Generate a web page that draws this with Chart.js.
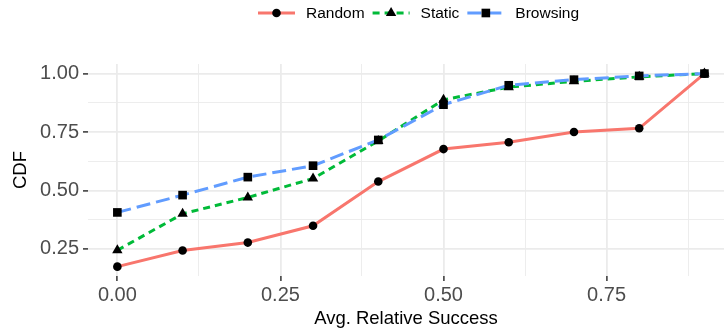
<!DOCTYPE html>
<html>
<head>
<meta charset="utf-8">
<script src="https://cdn.jsdelivr.net/npm/chart.js@4/dist/chart.umd.min.js"></script>
<style>
  html, body { margin: 0; padding: 0; background: #fff; }
  #wrap { width: 724px; height: 330px; position: relative; }
</style>
</head>
<body>
<div id="wrap"><canvas id="cdfChart"></canvas></div>
<script>
const successLevels = [0.0, 0.1, 0.2, 0.3, 0.4, 0.5, 0.6, 0.7, 0.8, 0.9];
const randomCdf = [0.174, 0.243, 0.277, 0.349, 0.538, 0.677, 0.706, 0.750, 0.766, 1.0];
const staticCdf = [0.244, 0.400, 0.470, 0.551, 0.712, 0.888, 0.942, 0.967, 0.986, 1.0];
const browsingCdf = [0.406, 0.480, 0.557, 0.606, 0.716, 0.867, 0.950, 0.974, 0.990, 1.0];
const xTicks = [0, 0.125, 0.25, 0.375, 0.5, 0.625, 0.75, 0.875];
const yTicks = [0.25, 0.375, 0.5, 0.625, 0.75, 0.875, 1.0];

const FONT = '"Liberation Sans", Arial, sans-serif';

const series = [
  { label: 'Random', values: randomCdf, color: '#F8766D', dash: [], marker: 'circle', radius: 4.3, order: 3 },
  { label: 'Static', values: staticCdf, color: '#00BA38', dash: [7, 5], marker: 'triangle', radius: 6, order: 2 },
  { label: 'Browsing', values: browsingCdf, color: '#619CFF', dash: [14, 6], marker: 'rect', radius: 6.1, order: 1 },
];

function isMajor(v) {
  return Math.abs(v * 4 - Math.round(v * 4)) < 1e-6;
}

function drawMarker(ctx, kind, x, y, r) {
  ctx.fillStyle = '#000';
  ctx.beginPath();
  if (kind === 'circle') {
    ctx.arc(x, y, r, 0, Math.PI * 2);
  } else if (kind === 'triangle') {
    for (let i = 0; i < 3; i++) {
      const a = i * 2 * Math.PI / 3;
      const px = x + Math.sin(a) * r;
      const py = y - Math.cos(a) * r;
      if (i === 0) ctx.moveTo(px, py); else ctx.lineTo(px, py);
    }
    ctx.closePath();
  } else {
    const s = r * Math.SQRT1_2;
    ctx.rect(x - s, y - s, 2 * s, 2 * s);
  }
  ctx.fill();
}

// ggplot-like legend above the panel: line key with marker, then label
const topLegend = {
  id: 'topLegend',
  afterDraw(chart) {
    const ctx = chart.ctx;
    ctx.save();
    ctx.font = '15.5px ' + FONT;
    ctx.textBaseline = 'middle';
    const y = 13;
    let x = 258;
    series.forEach((s) => {
      ctx.strokeStyle = s.color;
      ctx.lineWidth = 3;
      ctx.setLineDash(s.dash);
      ctx.beginPath();
      ctx.moveTo(x, y);
      ctx.lineTo(x + 37, y);
      ctx.stroke();
      ctx.setLineDash([]);
      drawMarker(ctx, s.marker, x + 18.5, y, s.radius);
      ctx.fillStyle = '#000';
      ctx.fillText(s.label, x + 48, y + 1);
      x += 48 + ctx.measureText(s.label).width + 8;
    });
    ctx.restore();
  },
};

const datasets = series.map((s) => ({
  label: s.label,
  data: successLevels.map((x, i) => ({ x, y: s.values[i] })),
  borderColor: s.color,
  borderWidth: 3,
  borderDash: s.dash,
  pointStyle: s.marker,
  pointRadius: s.radius,
  pointBackgroundColor: '#000',
  pointBorderColor: '#000',
  pointBorderWidth: 0,
  tension: 0,
  fill: false,
  order: s.order,
}));

new Chart(document.getElementById('cdfChart'), {
  type: 'line',
  data: { datasets },
  plugins: [topLegend],
  options: {
    responsive: true,
    maintainAspectRatio: false,
    animation: false,
    layout: { autoPadding: false, padding: { top: 64, right: 0, bottom: 0, left: 0 } },
    plugins: { legend: { display: false }, tooltip: { enabled: false } },
    scales: {
      x: {
        type: 'linear',
        min: -0.045,
        max: 0.93,
        afterBuildTicks: (scale) => { scale.ticks = xTicks.map((v) => ({ value: v })); },
        afterFit: (scale) => {
          scale.height = 54;
          scale.paddingRight = 0;
          scale.paddingLeft = 0;
        },
        border: { display: false },
        grid: {
          color: '#EBEBEB',
          lineWidth: (c) => (isMajor(c.tick.value) ? 1.8 : 0.9),
          tickColor: (c) => (isMajor(c.tick.value) ? '#333333' : 'rgba(0,0,0,0)'),
          tickLength: 5,
          tickWidth: 1.5,
        },
        ticks: {
          color: '#4D4D4D',
          font: { family: FONT, size: 20 },
          padding: 2,
          maxRotation: 0,
          autoSkip: false,
          callback: (v) => (isMajor(v) ? v.toFixed(2) : ''),
        },
        title: {
          display: true,
          text: 'Avg. Relative Success',
          color: '#000',
          font: { family: FONT, size: 18.5 },
          padding: { top: 0, bottom: 0 },
        },
      },
      y: {
        type: 'linear',
        min: 0.134,
        max: 1.041,
        afterBuildTicks: (scale) => { scale.ticks = yTicks.map((v) => ({ value: v })); },
        afterFit: (scale) => { scale.width = 88; },
        border: { display: false },
        grid: {
          color: '#EBEBEB',
          lineWidth: (c) => (isMajor(c.tick.value) ? 1.8 : 0.9),
          tickColor: (c) => (isMajor(c.tick.value) ? '#333333' : 'rgba(0,0,0,0)'),
          tickLength: 5,
          tickWidth: 1.5,
        },
        ticks: {
          color: '#4D4D4D',
          font: { family: FONT, size: 20 },
          padding: 4,
          autoSkip: false,
          callback: (v) => (isMajor(v) ? v.toFixed(2) : ''),
        },
        title: {
          display: true,
          text: 'CDF',
          color: '#000',
          font: { family: FONT, size: 18.5 },
          padding: { top: 10, bottom: 0 },
        },
      },
    },
  },
});
</script>
</body>
</html>
